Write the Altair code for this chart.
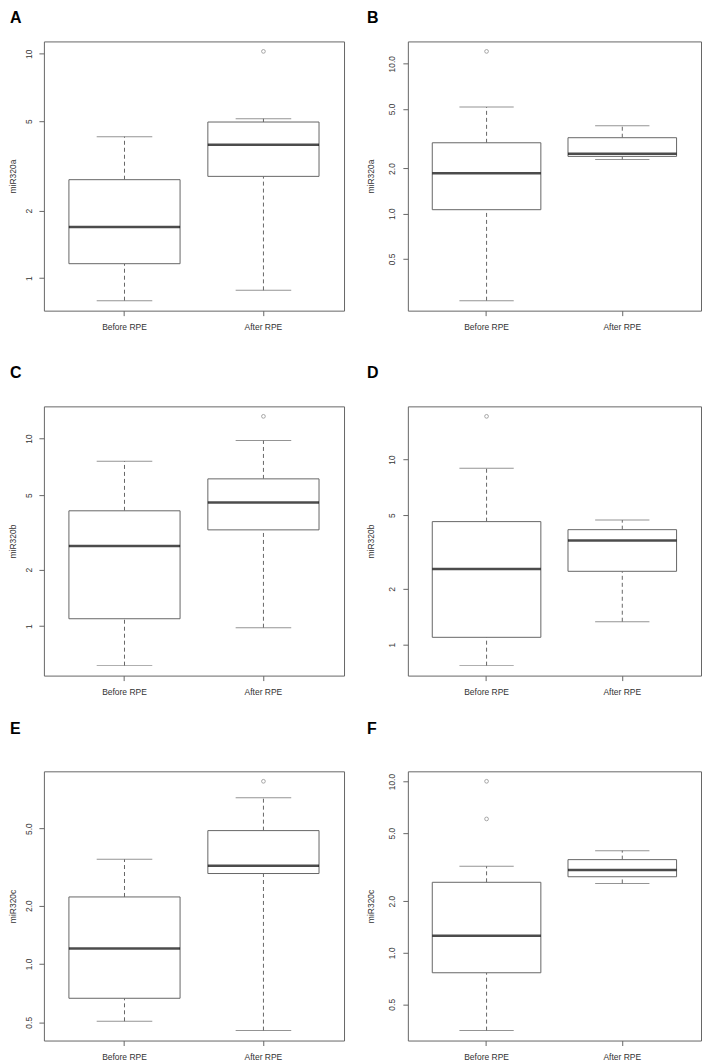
import math
import altair as alt
import pandas as pd

groups = ["Before RPE", "After RPE"]
panel_ids = ["A", "B", "C", "D", "E", "F"]
y_titles = ["miR320a", "miR320a", "miR320b", "miR320b", "miR320c", "miR320c"]

# Box-plot summaries per panel, order: [Before RPE, After RPE]
whisker_low = {"A": [0.793, 0.882], "B": [0.263, 2.30], "C": [0.615, 0.98],
               "D": [0.77, 1.33], "E": [0.506, 0.453], "F": [0.351, 2.54]}
quart1 = {"A": [1.159, 2.84], "B": [1.063, 2.41], "C": [1.094, 3.26],
          "D": [1.095, 2.49], "E": [0.665, 2.93], "F": [0.764, 2.78]}
median = {"A": [1.688, 3.93], "B": [1.857, 2.51], "C": [2.67, 4.56],
          "D": [2.56, 3.65], "E": [1.20, 3.21], "F": [1.257, 3.04]}
quart3 = {"A": [2.745, 4.96], "B": [2.97, 3.21], "C": [4.12, 6.10],
          "D": [4.62, 4.18], "E": [2.218, 4.88], "F": [2.58, 3.50]}
whisker_high = {"A": [4.27, 5.13], "B": [5.14, 3.86], "C": [7.57, 9.76],
                "D": [8.98, 4.71], "E": [3.47, 7.22], "F": [3.20, 3.95]}
outlier_group = {"A": ["After RPE"], "B": ["Before RPE"], "C": ["After RPE"],
                 "D": ["Before RPE"], "E": ["After RPE"], "F": ["Before RPE", "Before RPE"]}
outlier_value = {"A": [10.24], "B": [12.08], "C": [13.15],
                 "D": [17.12], "E": [8.77], "F": [10.04, 6.05]}
tick_values = {"A": [1, 2, 5, 10], "B": [0.5, 1, 2, 5, 10], "C": [1, 2, 5, 10],
               "D": [1, 2, 5, 10], "E": [0.5, 1, 2, 5], "F": [0.5, 1, 2, 5, 10]}
tick_format = {"A": ".0f", "B": ".1f", "C": ".0f", "D": ".0f", "E": ".1f", "F": ".1f"}

H = 270
WIDTHS = [301, 294]
FONT = "Liberation Sans"
LINE = "#666666"
TEXT = "#333333"
letter_dy = [-18, -18, -28, -28, -37, -37]


def panel(i, pid):
    left_col = (i % 2 == 0)
    W = WIDTHS[0] if left_col else WIDTHS[1]
    step = W / 2.16
    stats = pd.DataFrame({
        "group": groups,
        "lo": whisker_low[pid], "q1": quart1[pid], "med": median[pid],
        "q3": quart3[pid], "hi": whisker_high[pid],
    })
    outs = pd.DataFrame({"group": outlier_group[pid], "value": outlier_value[pid]})
    vals = whisker_low[pid] + whisker_high[pid] + outlier_value[pid]
    lmin, lmax = math.log10(min(vals)), math.log10(max(vals))
    ext = 0.04 * (lmax - lmin)
    domain = [10 ** (lmin - ext), 10 ** (lmax + ext)]

    yscale = alt.Scale(type="log", domain=domain, nice=False, zero=False)
    yaxis = alt.Axis(
        title=y_titles[i], values=tick_values[pid], format=tick_format[pid],
        labelAngle=-90, labelAlign="center", labelBaseline="bottom",
        tickSize=5, tickColor=LINE, labelPadding=5 if left_col else 6,
        domain=False, grid=False, minExtent=19, maxExtent=19,
        titlePadding=7 if left_col else 13,
        titleFontSize=8.5, titleFontWeight="normal", titleFont=FONT, titleColor=TEXT,
        labelFontSize=8.5, labelFont=FONT, labelColor=TEXT,
    )
    xaxis = alt.Axis(
        title=None, labelAngle=0, domain=False, grid=False, tickSize=5,
        tickColor=LINE, labelPadding=7, labelFontSize=8.5, labelFont=FONT,
        labelColor=TEXT, labelBaseline="top",
    )
    xenc = alt.X("group:N", sort=groups,
                 scale=alt.Scale(domain=groups, paddingInner=0, paddingOuter=0.08),
                 axis=xaxis)

    base = alt.Chart(stats).encode(x=xenc)
    whisk_lo = base.mark_rule(color=LINE, strokeDash=[4, 3], strokeWidth=1).encode(
        y=alt.Y("lo:Q", scale=yscale, axis=yaxis), y2="q1:Q")
    whisk_hi = base.mark_rule(color=LINE, strokeDash=[4, 3], strokeWidth=1).encode(
        y=alt.Y("q3:Q", scale=yscale, axis=yaxis), y2="hi:Q")
    cap_lo = base.mark_tick(color=LINE, size=0.4 * step, thickness=1).encode(
        y=alt.Y("lo:Q", scale=yscale, axis=yaxis))
    cap_hi = base.mark_tick(color=LINE, size=0.4 * step, thickness=1).encode(
        y=alt.Y("hi:Q", scale=yscale, axis=yaxis))
    box = base.mark_bar(width={"band": 0.8}, fill="white", stroke=LINE, strokeWidth=1).encode(
        y=alt.Y("q1:Q", scale=yscale, axis=yaxis), y2="q3:Q")
    med = base.mark_tick(color="#000000", size=0.8 * step, thickness=2.5).encode(
        y=alt.Y("med:Q", scale=yscale, axis=yaxis))
    pts = alt.Chart(outs).mark_point(shape="circle", filled=False, size=14,
                                     strokeWidth=0.8, color=LINE).encode(
        x=xenc, y=alt.Y("value:Q", scale=yscale, axis=yaxis))
    letter = alt.Chart(pd.DataFrame({"letter": [pid]})).mark_text(
        align="left", baseline="alphabetic", fontSize=16, fontWeight="bold",
        font=FONT, color="#000000",
    ).encode(text="letter:N", x=alt.value(-34 if left_col else -41),
             y=alt.value(letter_dy[i]))

    return alt.layer(whisk_lo, whisk_hi, cap_lo, cap_hi, box, med, pts, letter).properties(
        width=W, height=H)


panels = [panel(i, pid) for i, pid in enumerate(panel_ids)]

chart = alt.concat(
    *panels, columns=2, spacing={"row": 96, "column": 64}, bounds="flush", align="each"
).properties(padding=0).configure_view(stroke=LINE, strokeWidth=1)

chart.save("out.html", embed_options={"renderer": "svg", "actions": False})
